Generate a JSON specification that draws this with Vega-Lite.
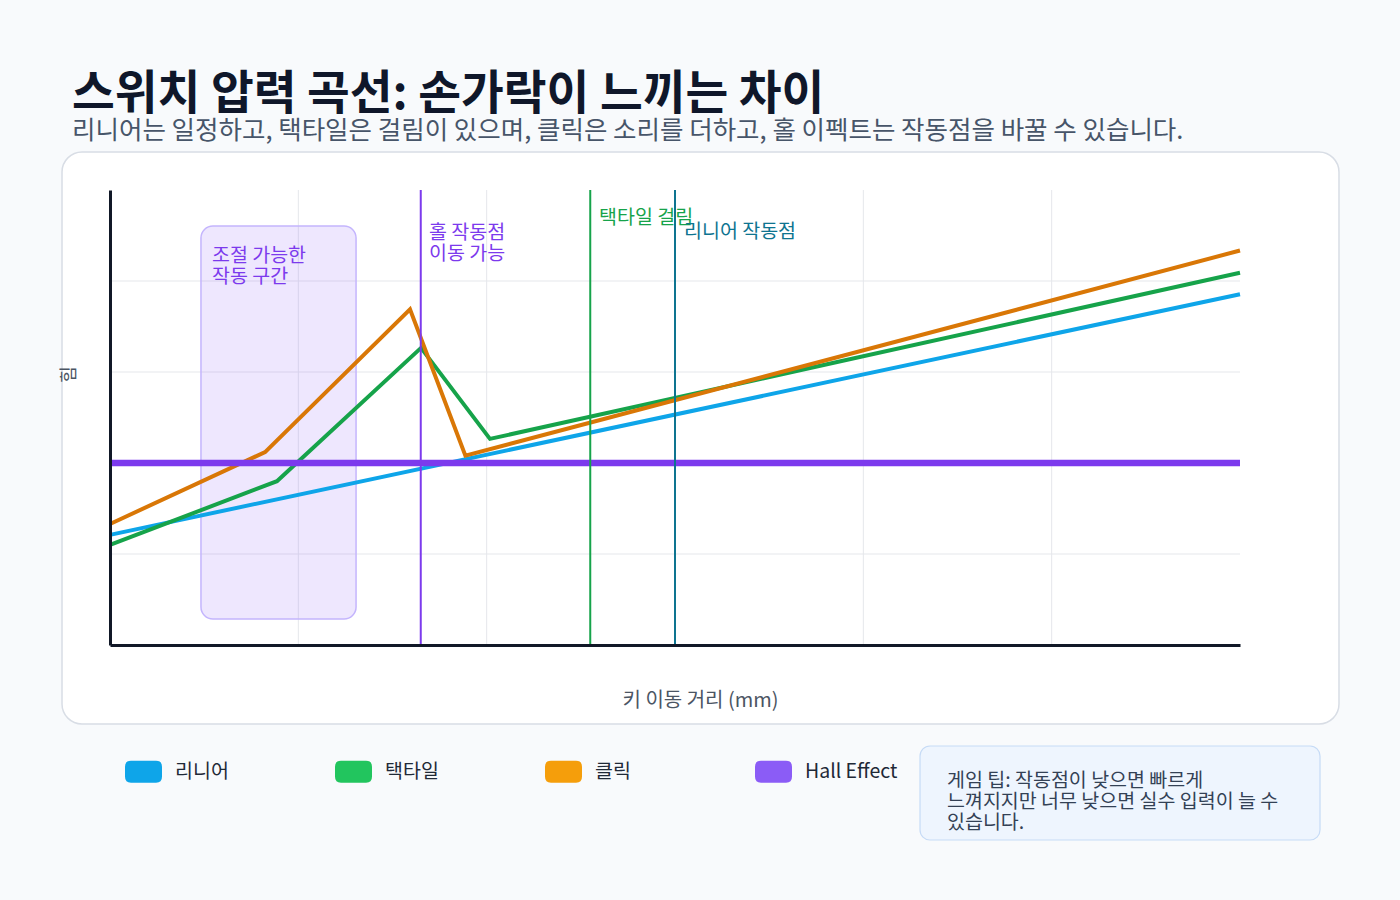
{
  "$schema": "https://vega.github.io/schema/vega-lite/v6.json",
  "width": 1130,
  "height": 455,
  "autosize": {"type": "none"},
  "padding": {"left": 110, "top": 190, "right": 160, "bottom": 255},
  "background": "#f8fafc",
  "config": {
    "font": "Noto Sans CJK KR",
    "view": {"stroke": null}
  },
  "title": {
    "text": "스위치 압력 곡선: 손가락이 느끼는 차이",
    "subtitle": "리니어는 일정하고, 택타일은 걸림이 있으며, 클릭은 소리를 더하고, 홀 이펙트는 작동점을 바꿀 수 있습니다.",
    "anchor": "start",
    "frame": "group",
    "dx": -38,
    "offset": 7,
    "font": "Noto Sans CJK KR",
    "fontSize": 46.5,
    "fontWeight": "bold",
    "color": "#0f172a",
    "subtitleFont": "Noto Sans CJK KR",
    "subtitleFontSize": 25.5,
    "subtitleColor": "#475569",
    "subtitlePadding": 0
  },
  "datasets": {
    "card": [{"x": -0.1699, "x2": 4.3504, "y": 108.35, "y2": -17.36}],
    "tip": [{"x": 2.8673, "x2": 4.2832, "y": -22.2, "y2": -42.86}],
    "gridx": [{"x": 0.6667}, {"x": 1.3333}, {"x": 2.0}, {"x": 2.6667}, {"x": 3.3333}],
    "gridy": [{"y": 20}, {"y": 40}, {"y": 60}, {"y": 80}],
    "zone": [{"x": 0.322, "x2": 0.871, "y": 92.1, "y2": 5.7}],
    "markers": [
      {"x": 1.1, "kind": "홀"},
      {"x": 1.7, "kind": "택타일"},
      {"x": 2.0, "kind": "리니어"}
    ],
    "curves": [
      {"series": "리니어", "x": 0, "force": 24.2},
      {"series": "리니어", "x": 4, "force": 77.1},
      {"series": "택타일", "x": 0, "force": 22.0},
      {"series": "택타일", "x": 0.591, "force": 36.0},
      {"series": "택타일", "x": 1.101, "force": 65.3},
      {"series": "택타일", "x": 1.345, "force": 45.3},
      {"series": "택타일", "x": 4, "force": 81.8},
      {"series": "클릭", "x": 0, "force": 26.6},
      {"series": "클릭", "x": 0.549, "force": 42.4},
      {"series": "클릭", "x": 1.062, "force": 73.8},
      {"series": "클릭", "x": 1.258, "force": 41.6},
      {"series": "클릭", "x": 4, "force": 86.7}
    ],
    "hall": [
      {"series": "Hall Effect", "x": 0, "force": 40},
      {"series": "Hall Effect", "x": 4, "force": 40}
    ],
    "keys": [
      {"name": "리니어"}, {"name": "택타일"}, {"name": "클릭"}, {"name": "Hall Effect"}
    ],
    "notes": [
      {"x": 0.361, "y": 87.4, "t": ["조절 가능한", "작동 구간"], "kind": "구간"},
      {"x": 1.129, "y": 92.5, "t": ["홀 작동점", "이동 가능"], "kind": "홀"},
      {"x": 1.731, "y": 95.9, "t": ["택타일 걸림"], "kind": "택타일"},
      {"x": 2.032, "y": 92.8, "t": ["리니어 작동점"], "kind": "리니어"},
      {"x": 2.963, "y": -27.9, "t": ["게임 팁: 작동점이 낮으면 빠르게", "느껴지지만 너무 낮으면 실수 입력이 늘 수", "있습니다."], "kind": "팁"}
    ]
  },
  "encoding": {
    "x": {"type": "quantitative", "scale": {"domain": [0, 4], "nice": false, "zero": false},
      "axis": {"title": "키 이동 거리 (mm)", "grid": false, "labels": false, "ticks": false, "domainColor": "#111827", "domainWidth": 3, "zindex": 1,
        "titleFont": "Noto Sans CJK KR", "titleFontWeight": "normal", "titleX": 590, "titleY": 55, "titleBaseline": "middle", "titleFontSize": 20, "titleColor": "#4b5563"}},
    "y": {"type": "quantitative", "scale": {"domain": [0, 100], "nice": false, "zero": false},
      "axis": {"title": "힘", "grid": false, "labels": false, "ticks": false, "domainColor": "#111827", "domainWidth": 3, "zindex": 1,
        "titleFont": "Noto Sans CJK KR", "titleFontWeight": "normal", "titleX": -41, "titleY": 184, "titleBaseline": "middle", "titleFontSize": 18, "titleColor": "#4b5563"}}
  },
  "layer": [
    {
      "data": {"name": "card"},
      "mark": {"type": "rect", "fill": "#ffffff", "stroke": "#d8dde5", "strokeWidth": 1.5, "cornerRadius": 20, "clip": false},
      "encoding": {"x": {"field": "x"}, "x2": {"field": "x2"}, "y": {"field": "y"}, "y2": {"field": "y2"}}
    },
    {
      "data": {"name": "tip"},
      "mark": {"type": "rect", "fill": "#eef5fe", "stroke": "#c6dbf6", "strokeWidth": 1.2, "cornerRadius": 10, "clip": false},
      "encoding": {"x": {"field": "x"}, "x2": {"field": "x2"}, "y": {"field": "y"}, "y2": {"field": "y2"}}
    },
    {
      "data": {"name": "gridx"},
      "mark": {"type": "rule", "stroke": "#e5e7eb", "strokeWidth": 1},
      "encoding": {"x": {"field": "x"}, "y": {"datum": 0}, "y2": {"datum": 100}}
    },
    {
      "data": {"name": "gridy"},
      "mark": {"type": "rule", "stroke": "#e5e7eb", "strokeWidth": 1},
      "encoding": {"y": {"field": "y"}, "x": {"datum": 0}, "x2": {"datum": 4}}
    },
    {
      "data": {"name": "zone"},
      "mark": {"type": "rect", "fill": "#8b5cf6", "fillOpacity": 0.15, "stroke": "#c4b5fd", "strokeWidth": 1.5, "cornerRadius": 12},
      "encoding": {"x": {"field": "x"}, "x2": {"field": "x2"}, "y": {"field": "y"}, "y2": {"field": "y2"}}
    },
    {
      "data": {"name": "curves"},
      "mark": {"type": "line", "strokeWidth": 4, "strokeJoin": "miter", "clip": false},
      "encoding": {
        "x": {"field": "x"},
        "y": {"field": "force"},
        "stroke": {"field": "series", "type": "nominal",
          "scale": {"domain": ["Hall Effect", "리니어", "택타일", "클릭"], "range": ["#7c3aed", "#0ea5e9", "#16a34a", "#d97706"]},
          "legend": null}
      }
    },
    {
      "data": {"name": "hall"},
      "mark": {"type": "line", "strokeWidth": 6.5, "strokeCap": "butt"},
      "encoding": {
        "x": {"field": "x"},
        "y": {"field": "force"},
        "stroke": {"field": "series", "type": "nominal",
          "scale": {"domain": ["Hall Effect", "리니어", "택타일", "클릭"], "range": ["#7c3aed", "#0ea5e9", "#16a34a", "#d97706"]},
          "legend": null}
      }
    },
    {
      "data": {"name": "markers"},
      "mark": {"type": "rule", "strokeWidth": 2},
      "encoding": {
        "x": {"field": "x"}, "y": {"datum": 0}, "y2": {"datum": 100},
        "color": {"field": "kind", "type": "nominal",
          "scale": {"domain": ["구간", "홀", "택타일", "리니어", "팁"], "range": ["#7c3aed", "#7c3aed", "#16a34a", "#0e7490", "#334155"]},
          "legend": null}
      }
    },
    {
      "data": {"name": "keys"},
      "mark": {"type": "point", "filled": true, "size": 0, "strokeWidth": 0,
        "shape": "M-0.68,-0.595L0.68,-0.595Q1,-0.595 1,-0.275L1,0.275Q1,0.595 0.68,0.595L-0.68,0.595Q-1,0.595 -1,0.275L-1,-0.275Q-1,-0.595 -0.68,-0.595Z"},
      "encoding": {
        "x": {"datum": 0},
        "y": {"datum": 0},
        "fill": {"field": "name", "type": "nominal",
          "scale": {"domain": ["리니어", "택타일", "클릭", "Hall Effect"], "range": ["#0ea5e9", "#22c55e", "#f59e0b", "#8b5cf6"]},
          "legend": {
            "title": null,
            "orient": "none",
            "legendX": 15,
            "legendY": 563,
            "direction": "horizontal",
            "columns": 4,
            "gridAlign": "all",
            "columnPadding": 67,
            "padding": 0,
            "symbolSize": 1369,
            "symbolOpacity": 1,
            "symbolStrokeWidth": 0,
            "labelOffset": 13,
            "labelFont": "Noto Sans CJK KR",
            "labelFontSize": 19.5,
            "labelColor": "#1f2937",
            "labelLimit": 200
          }
        }
      }
    },
    {
      "data": {"name": "notes"},
      "mark": {"type": "text", "align": "left", "baseline": "top", "lineHeight": 21, "font": "Noto Sans CJK KR", "fontSize": 19.5, "clip": false},
      "encoding": {
        "x": {"field": "x"},
        "y": {"field": "y"},
        "text": {"field": "t"},
        "color": {"field": "kind", "type": "nominal",
          "scale": {"domain": ["구간", "홀", "택타일", "리니어", "팁"], "range": ["#7c3aed", "#7c3aed", "#16a34a", "#0e7490", "#334155"]},
          "legend": null}
      }
    }
  ]
}
